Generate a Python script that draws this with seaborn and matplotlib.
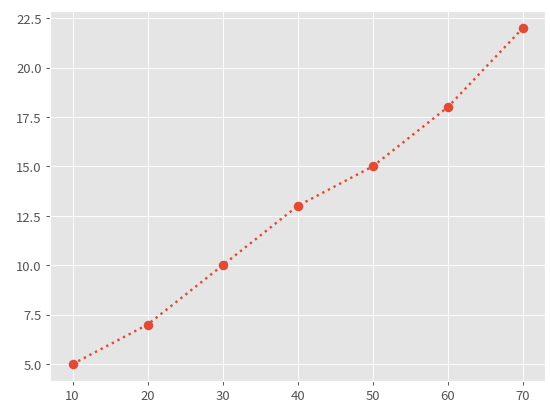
import matplotlib
matplotlib.use("Agg")
import matplotlib.pyplot as plt
import seaborn as sns
import pandas as pd

x_values = [10, 20, 30, 40, 50, 60, 70]
y_values = [5, 7, 10, 13, 15, 18, 22]

plt.style.use("ggplot")
plt.rcParams['font.family'] = ['Noto Sans CJK SC', 'DejaVu Sans']
plt.rcParams['font.size'] = 11

df = pd.DataFrame({"x": x_values, "y": y_values})

fig, ax = plt.subplots(figsize=(6.4, 4.8), dpi=86)
sns.lineplot(data=df, x="x", y="y", ax=ax, color="#E24A33", linestyle=":", linewidth=2,
             marker="o", markersize=8, markeredgewidth=0)
ax.set_xlabel("")
ax.set_ylabel("")
ax.set_xticks(x_values)
ax.tick_params(labelsize=11)
fig.subplots_adjust(left=0.091, right=0.991, top=0.971, bottom=0.0754)
fig.savefig("out.png", dpi=86)
